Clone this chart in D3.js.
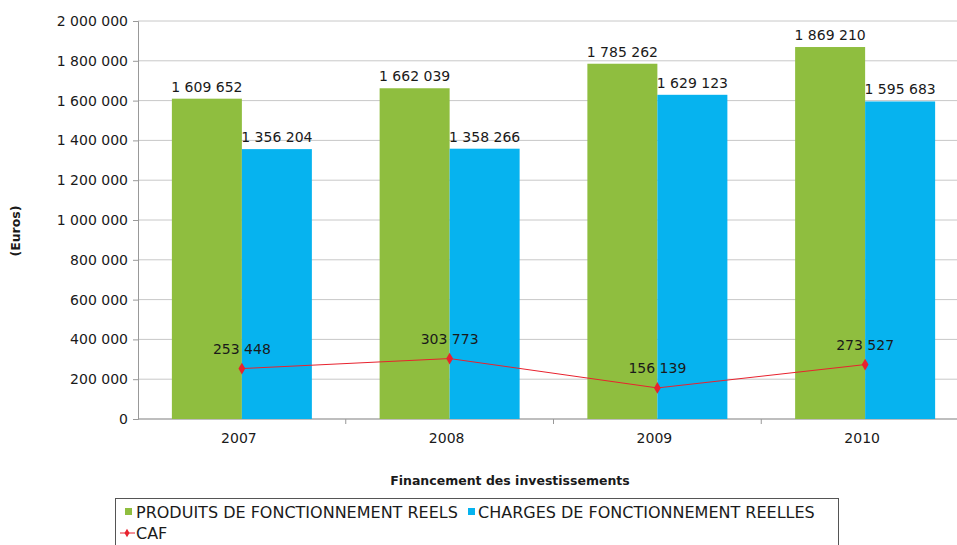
<html>
<head>
<script src="https://cdn.jsdelivr.net/npm/d3@7"></script>
<style>
  body { margin: 0; background: #fff; }
  text { font-family: "DejaVu Sans", Verdana, sans-serif; fill: #1a1a1a; }
</style>
</head>
<body>
<svg width="957" height="545"></svg>
<script>
var years = ['2007', '2008', '2009', '2010'];
var produits = [1609652, 1662039, 1785262, 1869210];
var charges = [1356204, 1358266, 1629123, 1595683];
var caf = [253448, 303773, 156139, 273527];
var yTicks = [0, 200000, 400000, 600000, 800000, 1000000, 1200000, 1400000, 1600000, 1800000, 2000000];

var green = '#8fbe3f', blue = '#06b3ef', red = '#e8222e';
var fmt = d => d3.format(',')(d).replace(/,/g, ' ');

var svg = d3.select('svg');
// note: "top" is taken by window.top, so use other names
var plotLeft = 138, plotRight = 969, plotTop = 21, plotBottom = 419;

var x = d3.scaleBand().domain(years).range([plotLeft, plotRight]);
var y = d3.scaleLinear().domain([0, 2000000]).range([plotBottom, plotTop]);
var barW = 70;

// gridlines
svg.append('g').selectAll('line')
    .data(yTicks)
    .enter()
    .append('line')
    .attr('x1', plotLeft).attr('x2', 957)
    .attr('y1', d => y(d)).attr('y2', d => y(d))
    .style('stroke', '#c8c8c8');

// y axis
var yAxis = svg.append('g')
    .attr('transform', 'translate(' + plotLeft + ',0)')
    .call(d3.axisLeft(y).tickValues(yTicks).tickFormat(fmt).tickSize(5).tickPadding(5));
yAxis.select('.domain').style('stroke', '#999');
yAxis.selectAll('line').style('stroke', '#999');
yAxis.selectAll('text').style('font-size', '14px').style('font-family', null);

// x axis
var xAxis = svg.append('g')
    .attr('transform', 'translate(0,' + plotBottom + ')')
    .call(d3.axisBottom(x).tickSize(0).tickPadding(14));
xAxis.select('.domain').remove();
xAxis.selectAll('text').style('font-size', '14px').attr('dx', -3);
svg.append('line')
    .attr('x1', plotLeft).attr('x2', 957).attr('y1', plotBottom).attr('y2', plotBottom)
    .style('stroke', '#999');
svg.append('g').selectAll('line')
    .data(years.slice(1))
    .enter()
    .append('line')
    .attr('x1', d => x(d)).attr('x2', d => x(d))
    .attr('y1', plotBottom).attr('y2', plotBottom + 5)
    .style('stroke', '#999');

// bars
function center(d) { return x(d) + x.bandwidth() / 2; }
var groups = svg.append('g').selectAll('g')
    .data(years)
    .enter()
    .append('g');
groups.append('rect')
    .attr('x', d => center(d) - barW)
    .attr('y', (d, i) => y(produits[i]))
    .attr('width', barW)
    .attr('height', (d, i) => plotBottom - y(produits[i]))
    .style('fill', green);
groups.append('rect')
    .attr('x', d => center(d))
    .attr('y', (d, i) => y(charges[i]))
    .attr('width', barW)
    .attr('height', (d, i) => plotBottom - y(charges[i]))
    .style('fill', blue);
groups.append('text')
    .attr('x', d => center(d) - barW / 2)
    .attr('y', (d, i) => y(produits[i]) - 7)
    .attr('text-anchor', 'middle')
    .style('font-size', '14px')
    .text((d, i) => fmt(produits[i]));
groups.append('text')
    .attr('x', d => center(d) + barW / 2)
    .attr('y', (d, i) => y(charges[i]) - 7)
    .attr('text-anchor', 'middle')
    .style('font-size', '14px')
    .text((d, i) => fmt(charges[i]));

// CAF line
var line = d3.line()
    .x((d, i) => center(years[i]))
    .y(d => y(d));
svg.append('path')
    .datum(caf)
    .attr('d', line)
    .style('fill', 'none')
    .style('stroke', red)
    .style('stroke-width', 1);
svg.append('g').selectAll('path')
    .data(caf)
    .enter()
    .append('path')
    .attr('d', d3.symbol().type(d3.symbolDiamond).size(40))
    .attr('transform', (d, i) => 'translate(' + center(years[i]) + ',' + y(d) + ')')
    .style('fill', red);
svg.append('g').selectAll('text')
    .data(caf)
    .enter()
    .append('text')
    .attr('x', (d, i) => center(years[i]))
    .attr('y', d => y(d) - 15)
    .attr('text-anchor', 'middle')
    .style('font-size', '14px')
    .text(fmt);

// axis titles
svg.append('text')
    .attr('transform', 'translate(20,231) rotate(-90)')
    .attr('text-anchor', 'middle')
    .style('font-size', '12.5px')
    .style('font-weight', 'bold')
    .text('(Euros)');
svg.append('text')
    .attr('x', 510).attr('y', 485)
    .attr('text-anchor', 'middle')
    .style('font-size', '12.5px')
    .style('font-weight', 'bold')
    .text('Financement des investissements');

// legend
var lg = svg.append('g');
lg.append('rect')
    .attr('x', 115.5).attr('y', 498.5).attr('width', 723).attr('height', 60)
    .style('fill', 'none').style('stroke', '#555');
lg.append('rect').attr('x', 125).attr('y', 508).attr('width', 7).attr('height', 7).style('fill', green);
lg.append('text').attr('x', 136).attr('y', 518).style('font-size', '16px').text('PRODUITS DE FONCTIONNEMENT REELS');
lg.append('rect').attr('x', 468).attr('y', 508).attr('width', 7).attr('height', 7).style('fill', blue);
lg.append('text').attr('x', 478).attr('y', 518).style('font-size', '16px').text('CHARGES DE FONCTIONNEMENT REELLES');
lg.append('line').attr('x1', 120).attr('x2', 135).attr('y1', 533).attr('y2', 533).style('stroke', red);
lg.append('path')
    .attr('d', d3.symbol().type(d3.symbolDiamond).size(22))
    .attr('transform', 'translate(127,533)')
    .style('fill', red);
lg.append('text').attr('x', 136).attr('y', 539).style('font-size', '16px').text('CAF');
</script>
</body>
</html>
